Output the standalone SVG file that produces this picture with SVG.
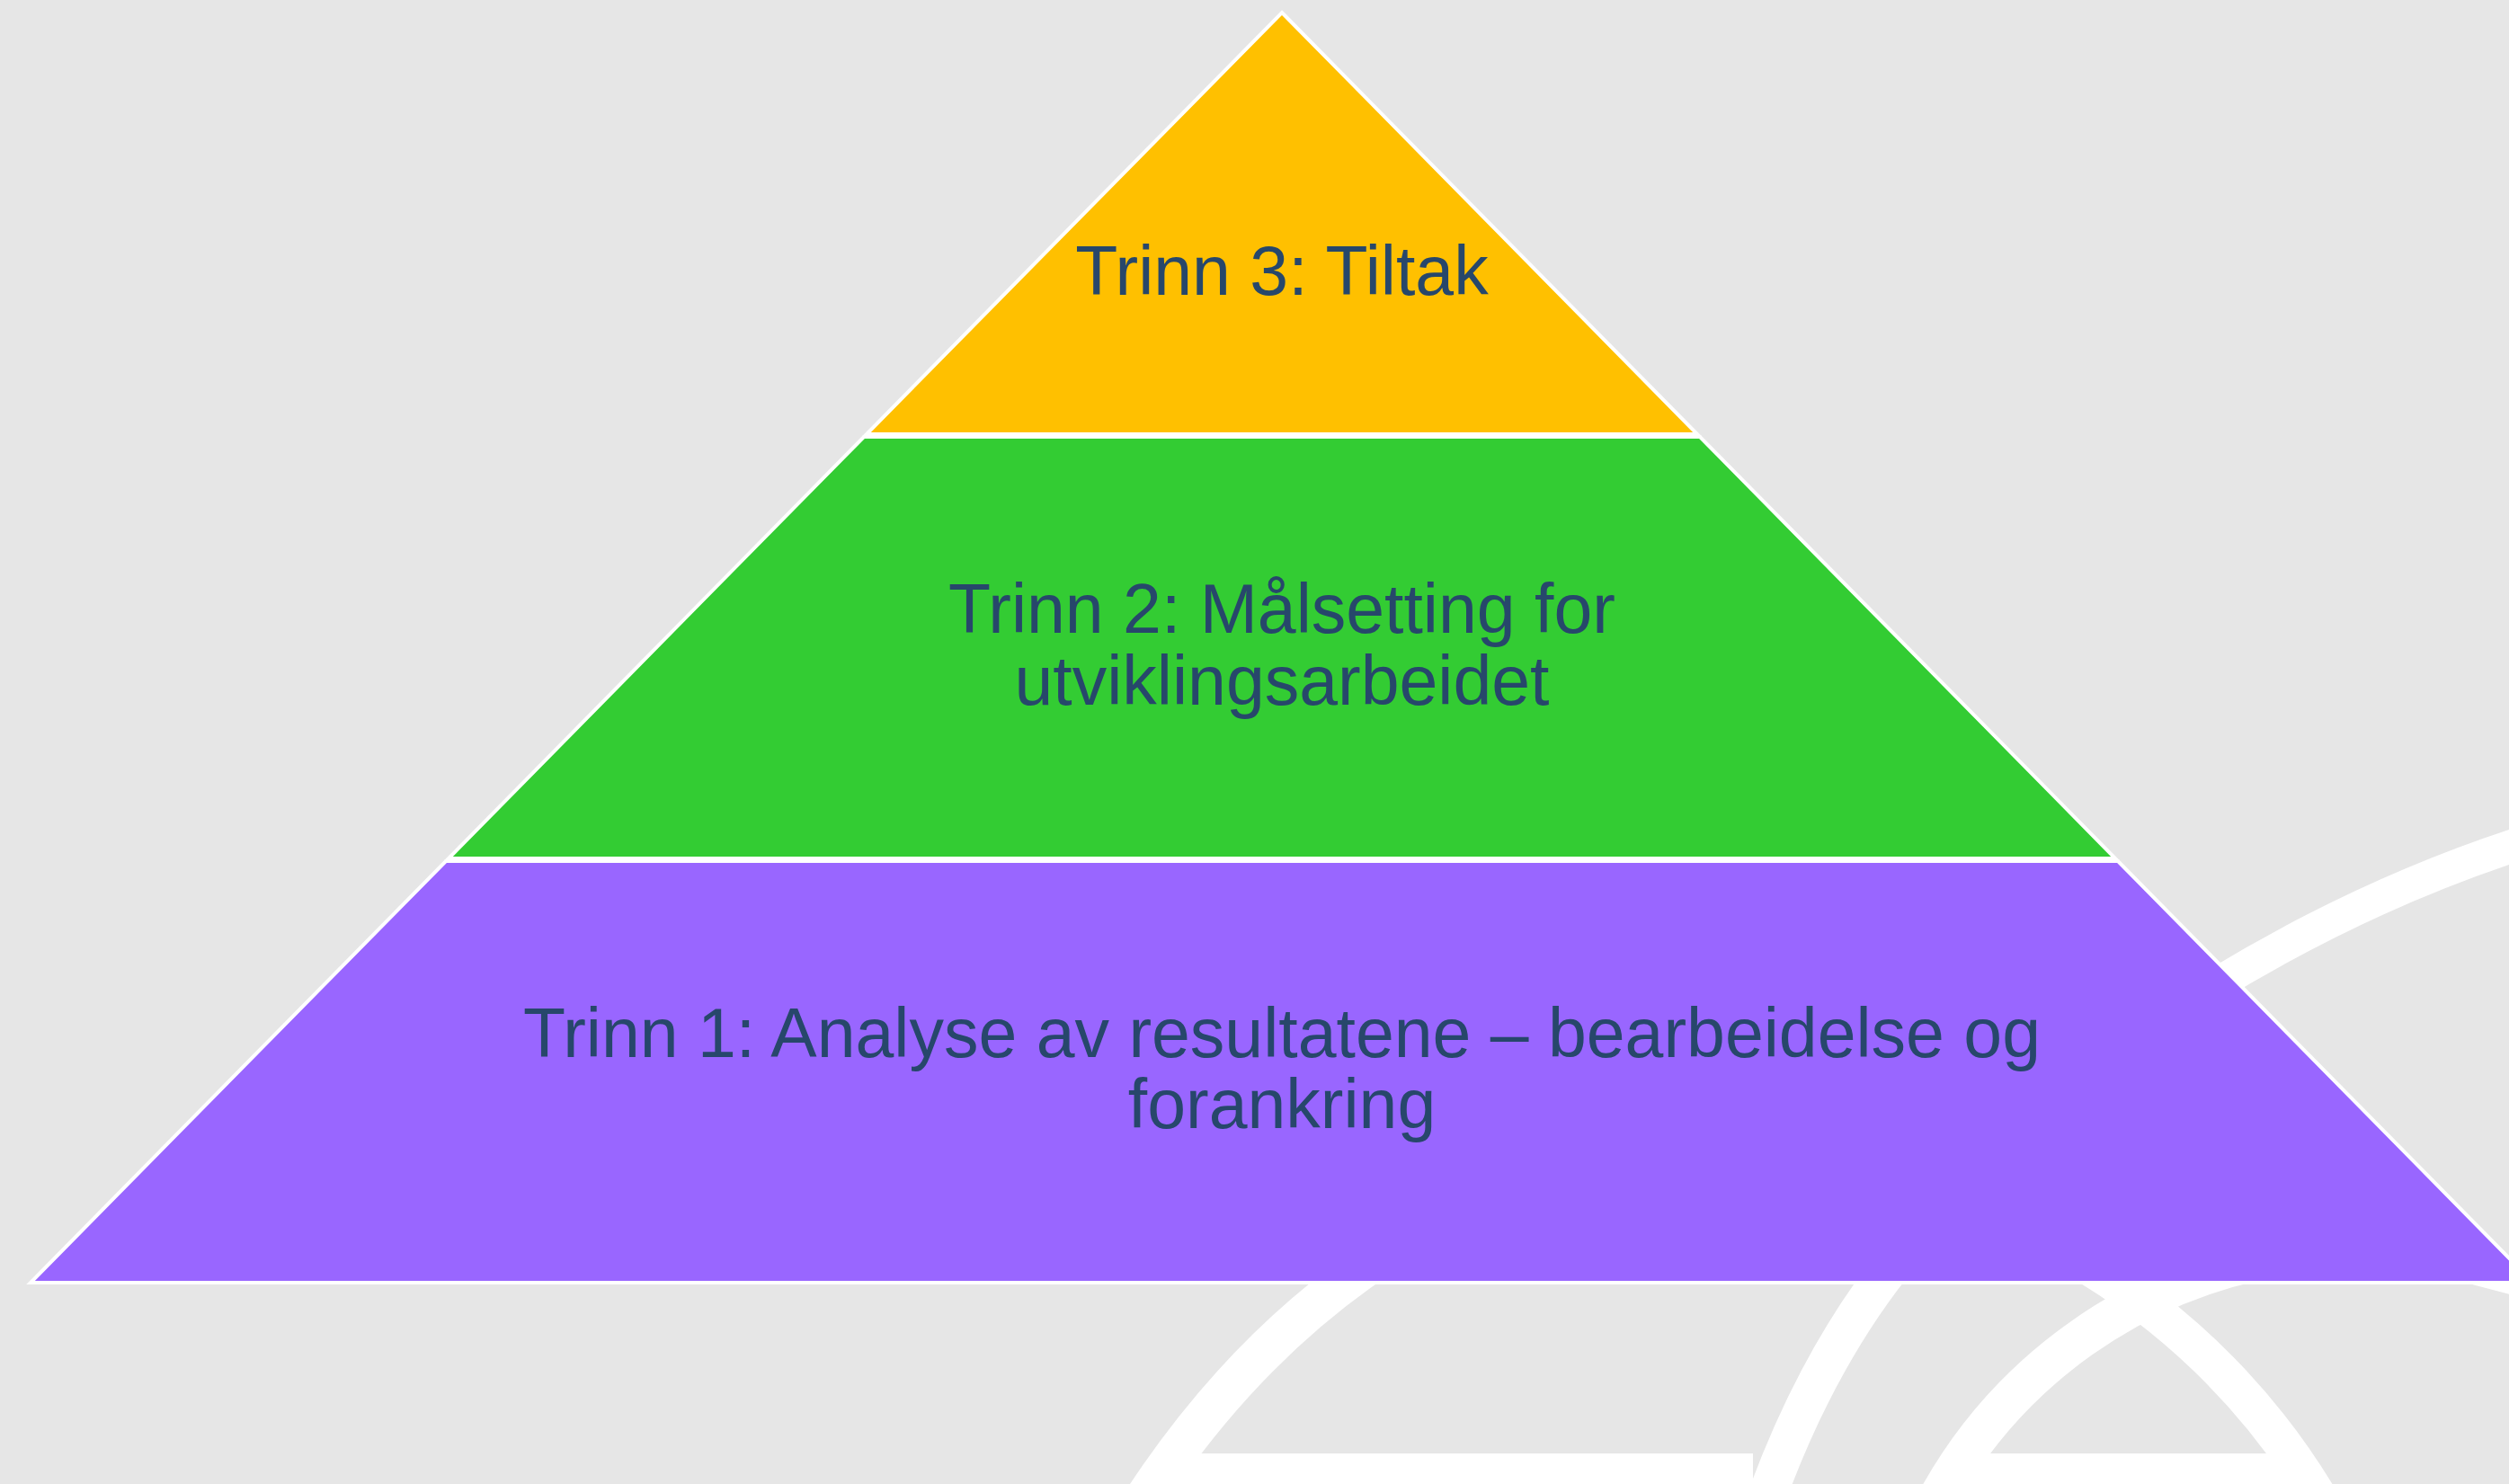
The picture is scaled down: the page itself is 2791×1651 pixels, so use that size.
<svg xmlns="http://www.w3.org/2000/svg" width="2791" height="1651" viewBox="0 0 2791 1651">
  <style>
    .band { fill: none; stroke: #ffffff; stroke-linecap: butt; }
    .bar { fill: #ffffff; }
    .tier { stroke: #ffffff; stroke-width: 4; stroke-linejoin: miter; }
    .label { font-family: "Liberation Sans", Arial, sans-serif; font-size: 77px; fill: #27476B; text-anchor: middle; }
  </style>

  <!-- backdrop -->
  <rect x="0" y="0" width="2791" height="1651" fill="#E6E6E6"/>

  <!-- decorative white emblem behind the pyramid -->
  <g id="emblem">
    <path class="band" stroke-width="37" d="M 2380,1150 Q 2600,1000 2830,930"/>
    <path class="band" stroke-width="40" d="M 2680,1390 L 2860,1437"/>
    <path class="band" stroke-width="45" d="M 1540,1395 Q 1380,1500 1265,1680"/>
    <path class="band" stroke-width="43" d="M 2115,1395 Q 2020,1510 1960,1680"/>
    <rect class="bar" x="1300" y="1617" width="650" height="40"/>
    <path class="band" stroke-width="44" d="M 2148.6,1680 A 538 538 0 0 1 2550,1395.4"/>
    <path class="band" stroke-width="42" d="M 2305.3,1398 A 758 758 0 0 1 2592.8,1690"/>
    <rect class="bar" x="2188" y="1617" width="362" height="40"/>
  </g>

  <!-- pyramid tiers -->
  <g id="trinn3">
    <polygon class="tier" fill="#FFC000" points="1426,14 1888,483 964,483"/>
    <text class="label" x="1426" y="328">Trinn 3: Tiltak</text>
  </g>
  <g id="trinn2">
    <polygon class="tier" fill="#33CC33" points="961,486 1891,486 2353,955 499,955"/>
    <text class="label" x="1426" y="704">Trinn 2: Målsetting for</text>
    <text class="label" x="1426" y="784">utviklingsarbeidet</text>
  </g>
  <g id="trinn1">
    <polygon class="tier" fill="#9966FF" points="496,958 2356,958 2818,1427 34,1427"/>
    <text class="label" x="1426" y="1176">Trinn 1: Analyse av resultatene – bearbeidelse og</text>
    <text class="label" x="1426" y="1255">forankring</text>
  </g>

  <g id="connectors"/>
</svg>
